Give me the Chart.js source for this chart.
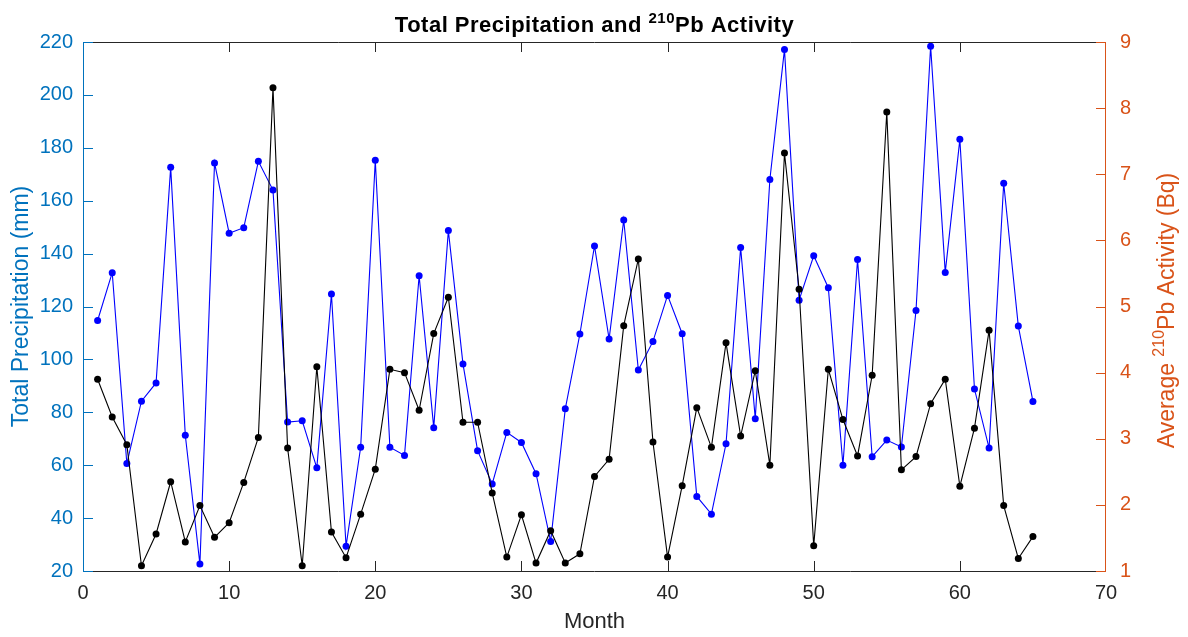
<!DOCTYPE html>
<html>
<head>
<meta charset="utf-8">
<script src="https://cdn.jsdelivr.net/npm/chart.js@4.4.0/dist/chart.umd.min.js"></script>
<style>
  html, body { margin: 0; padding: 0; background: #fff; }
</style>
</head>
<body>
<canvas id="grafico" width="1188" height="637"></canvas>
<script>
// meses 1..65
const meses = [1, 2, 3, 4, 5, 6, 7, 8, 9, 10, 11, 12, 13, 14, 15, 16, 17, 18, 19, 20,
  21, 22, 23, 24, 25, 26, 27, 28, 29, 30, 31, 32, 33, 34, 35, 36, 37, 38, 39, 40,
  41, 42, 43, 44, 45, 46, 47, 48, 49, 50, 51, 52, 53, 54, 55, 56, 57, 58, 59, 60,
  61, 62, 63, 64, 65];

// precipitação total (mm)
const precipitacao = [114.7, 132.8, 60.6, 84.2, 91.1, 172.6, 71.3, 22.6, 174.3, 147.7,
  149.8, 174.9, 164.0, 76.3, 76.8, 59.0, 124.7, 29.4, 66.8, 175.3,
  66.8, 63.7, 131.6, 74.2, 148.7, 98.3, 65.5, 52.9, 72.4, 68.6,
  56.8, 31.2, 81.3, 109.6, 142.9, 107.7, 152.7, 96.0, 106.8, 124.2,
  109.7, 48.2, 41.5, 68.1, 142.3, 77.6, 168.0, 217.2, 122.4, 139.2,
  127.1, 60.0, 137.8, 63.2, 69.5, 66.9, 118.5, 218.4, 132.9, 183.2,
  88.8, 66.5, 166.6, 112.6, 84.1];

// atividade média de 210Pb (Bq)
const atividadePb = [3.90, 3.33, 2.91, 1.08, 1.56, 2.35, 1.44, 1.99, 1.51, 1.73,
  2.34, 3.02, 8.31, 2.86, 1.08, 4.09, 1.59, 1.20, 1.86, 2.54,
  4.05, 4.00, 3.43, 4.59, 5.14, 3.25, 3.25, 2.18, 1.21, 1.85,
  1.12, 1.61, 1.12, 1.26, 2.43, 2.69, 4.71, 5.72, 2.95, 1.21,
  2.29, 3.47, 2.87, 4.45, 3.04, 4.03, 2.60, 7.32, 5.26, 1.38,
  4.05, 3.29, 2.74, 3.96, 7.94, 2.53, 2.73, 3.53, 3.90, 2.28,
  3.16, 4.64, 1.99, 1.19, 1.52];

const tituloPartes = [["Total Precipitation and ", false], ["210", true], ["Pb Activity", false]];
const rotuloDireitoPartes = [["Average ", false], ["210", true], ["Pb Activity (Bq)", false]];

const FONTE = "'Liberation Sans', Arial, sans-serif";
const AZUL_EIXO = "#0072BD";
const LARANJA_EIXO = "#D95319";
const CINZA_EIXO = "#262626";

// escreve texto com partes sobrescritas, centrado em x
function textoComSobrescrito(ctx, partes, x, y, tamanho, peso, cor, espaco) {
  ctx.letterSpacing = espaco || "0px";
  const fontes = partes.map(([, sup]) =>
    `${peso} ${sup ? Math.round(tamanho * 0.7) : tamanho}px ${FONTE}`);
  let total = 0;
  partes.forEach(([t], i) => { ctx.font = fontes[i]; total += ctx.measureText(t).width; });
  let cx = x - total / 2;
  ctx.fillStyle = cor;
  ctx.textAlign = "left";
  ctx.textBaseline = "alphabetic";
  partes.forEach(([t, sup], i) => {
    ctx.font = fontes[i];
    ctx.fillText(t, cx, sup ? y - tamanho * 0.42 : y);
    cx += ctx.measureText(t).width;
  });
  ctx.letterSpacing = "0px";
}

// moldura, marcas internas e textos com sobrescrito
const molduraEixos = {
  id: "molduraEixos",
  afterDraw(chart) {
    const { ctx, chartArea: a, scales } = chart;
    const L = 10;
    ctx.save();
    ctx.lineWidth = 1;

    ctx.strokeStyle = CINZA_EIXO;
    ctx.beginPath();
    ctx.moveTo(a.left, a.top + 0.5); ctx.lineTo(a.right, a.top + 0.5);
    ctx.moveTo(a.left, a.bottom + 0.5); ctx.lineTo(a.right, a.bottom + 0.5);
    scales.x.ticks.forEach(t => {
      const px = Math.round(scales.x.getPixelForValue(t.value)) + 0.5;
      if (t.value === 0 || t.value === 70) return;
      ctx.moveTo(px, a.bottom); ctx.lineTo(px, a.bottom - L);
      ctx.moveTo(px, a.top); ctx.lineTo(px, a.top + L);
    });
    ctx.stroke();

    ctx.strokeStyle = AZUL_EIXO;
    ctx.beginPath();
    ctx.moveTo(a.left + 0.5, a.top); ctx.lineTo(a.left + 0.5, a.bottom + 1);
    scales.yPrec.ticks.forEach(t => {
      const py = Math.round(scales.yPrec.getPixelForValue(t.value)) + 0.5;
      ctx.moveTo(a.left, py); ctx.lineTo(a.left + L, py);
    });
    ctx.stroke();

    ctx.strokeStyle = LARANJA_EIXO;
    ctx.beginPath();
    ctx.moveTo(a.right - 0.5, a.top); ctx.lineTo(a.right - 0.5, a.bottom + 1);
    scales.yPb.ticks.forEach(t => {
      const py = Math.round(scales.yPb.getPixelForValue(t.value)) + 0.5;
      ctx.moveTo(a.right, py); ctx.lineTo(a.right - L, py);
    });
    ctx.stroke();

    textoComSobrescrito(ctx, tituloPartes, (a.left + a.right) / 2, 32, 22, "bold", "#000", "0.5px");

    ctx.translate(1166, (a.top + a.bottom) / 2 + 4);
    ctx.rotate(-Math.PI / 2);
    textoComSobrescrito(ctx, rotuloDireitoPartes, 0, 8, 23, "normal", LARANJA_EIXO);
    ctx.restore();
  }
};

const ctx = document.getElementById("grafico").getContext("2d");

new Chart(ctx, {
  type: "line",
  data: {
    datasets: [
      {
        label: "Pb",
        data: meses.map((m, i) => ({ x: m, y: atividadePb[i] })),
        yAxisID: "yPb",
        borderColor: "#000",
        backgroundColor: "#000",
        borderWidth: 1.1,
        pointRadius: 3.5,
        pointBorderWidth: 0,
        tension: 0
      },
      {
        label: "Precipitação",
        data: meses.map((m, i) => ({ x: m, y: precipitacao[i] })),
        yAxisID: "yPrec",
        borderColor: "#0000FF",
        backgroundColor: "#0000FF",
        borderWidth: 1.1,
        pointRadius: 3.5,
        pointBorderWidth: 0,
        tension: 0
      }
    ]
  },
  options: {
    responsive: false,
    animation: false,
    layout: { padding: { top: 42, left: 0, right: 0, bottom: 0 } },
    plugins: {
      legend: { display: false },
      tooltip: { enabled: false },
      title: { display: false }
    },
    scales: {
      x: {
        type: "linear",
        min: 0,
        max: 70,
        grid: { display: false, drawTicks: false },
        border: { display: false },
        ticks: { stepSize: 10, color: CINZA_EIXO, padding: 10, font: { family: FONTE, size: 20 } },
        title: {
          display: true,
          text: "Month",
          color: CINZA_EIXO,
          font: { family: FONTE, size: 22 },
          padding: { top: 0, bottom: 2 }
        },
        afterFit(s) { s.height = 66; }
      },
      yPrec: {
        position: "left",
        min: 20,
        max: 220,
        grid: { display: false, drawTicks: false },
        border: { display: false },
        ticks: { stepSize: 20, color: AZUL_EIXO, padding: 10, font: { family: FONTE, size: 20 } },
        title: {
          display: true,
          text: "Total Precipitation (mm)",
          color: AZUL_EIXO,
          font: { family: FONTE, size: 23 },
          padding: { top: 8, bottom: 0 }
        },
        afterFit(s) { s.width = 83; }
      },
      yPb: {
        position: "right",
        min: 1,
        max: 9,
        grid: { display: false, drawTicks: false },
        border: { display: false },
        ticks: { stepSize: 1, color: LARANJA_EIXO, padding: 14, font: { family: FONTE, size: 20 } },
        afterFit(s) { s.width = 82; }
      }
    }
  },
  plugins: [molduraEixos]
});
</script>
</body>
</html>
